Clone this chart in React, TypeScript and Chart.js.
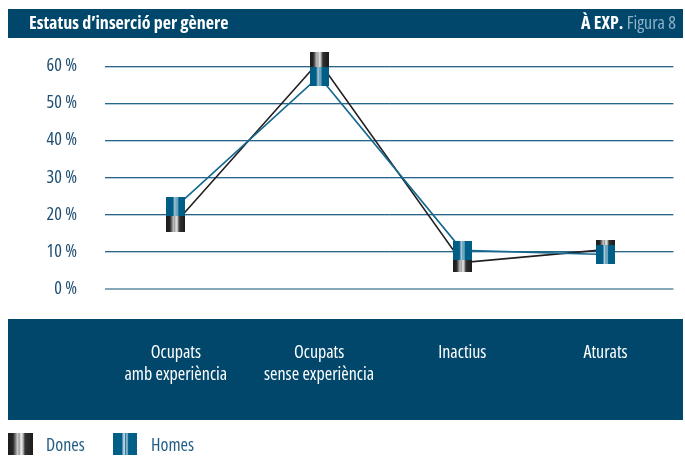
import React, { useEffect, useRef } from 'react';
import { Chart, registerables } from 'chart.js';

Chart.register(...registerables);

// ---- data ----
const categories: string[][] = [
  ['Ocupats', 'amb experiència'],
  ['Ocupats', 'sense experiència'],
  ['Inactius'],
  ['Aturats'],
];
const donesValues = [17.9, 61.2, 7.1, 10.6];
const homesValues = [22.1, 57.2, 10.4, 9.3];
const yTickValues = [0, 10, 20, 30, 40, 50, 60];
const seriesLabels = ['Dones', 'Homes'];
const titleText = 'Estatus d’inserció per gènere';
const sourceText = 'À EXP.';
const figureText = 'Figura 8';

// ---- style ----
const FAMILY = '"Open Sans", "Roboto", sans-serif';
const NAVY = '#00476b';
const DONES_LINE = '#231f20';
const HOMES_LINE = '#15698f';

type Stop = [number, string];
const DONES_STOPS: Stop[] = [
  [0, '#1c1c1c'], [0.2, '#262626'], [0.28, '#6a6a6a'], [0.38, '#c8c8c8'],
  [0.45, '#9a9a9a'], [0.52, '#f2f2f2'], [0.6, '#b8b8b8'], [0.68, '#333333'], [1, '#1c1c1c'],
];
const HOMES_STOPS: Stop[] = [
  [0, '#005d85'], [0.36, '#005f88'], [0.42, '#8fb8cc'], [0.47, '#d3e4ec'],
  [0.52, '#2c7ba1'], [0.58, '#a8c9d9'], [0.65, '#00608a'], [1, '#005d85'],
];

function makeMarker(w: number, h: number, stops: Stop[]): HTMLCanvasElement {
  const c = document.createElement('canvas');
  c.width = w;
  c.height = h;
  const ctx = c.getContext('2d')!;
  const g = ctx.createLinearGradient(0, 0, w, 0);
  stops.forEach(([o, col]) => g.addColorStop(o, col));
  ctx.fillStyle = g;
  ctx.fillRect(0, 0, w, h);
  return c;
}

export default function App() {
  const ref = useRef<HTMLCanvasElement>(null);

  useEffect(() => {
    const canvas = ref.current!;
    const donesImg = makeMarker(19, 19, DONES_STOPS);
    const homesImg = makeMarker(19, 19, HOMES_STOPS);
    const donesLegend = makeMarker(25, 22, DONES_STOPS);
    const homesLegend = makeMarker(24, 22, HOMES_STOPS);

    const decor = {
      id: 'decor',
      beforeDraw(chart: any) {
        const { ctx } = chart;
        ctx.save();
        ctx.fillStyle = NAVY;
        ctx.fillRect(8, 9, 675, 29);
        ctx.fillRect(8, 319, 675, 101);
        ctx.textBaseline = 'alphabetic';
        ctx.textAlign = 'left';
        ctx.font = `bold condensed 18px ${FAMILY}`;
        ctx.fillStyle = '#ffffff';
        ctx.fillText(titleText, 29, 29);
        ctx.font = `condensed 18px ${FAMILY}`;
        const fw = ctx.measureText(figureText).width;
        const space = ctx.measureText(' ').width;
        const fx = 676 - fw;
        ctx.fillStyle = '#8fb2c8';
        ctx.fillText(figureText, fx, 29);
        ctx.font = `bold condensed 18px ${FAMILY}`;
        const sw = ctx.measureText(sourceText).width;
        ctx.fillStyle = '#ffffff';
        ctx.fillText(sourceText, fx - space - sw, 29);
        ctx.restore();
      },
      beforeDatasetsDraw(chart: any) {
        const { ctx, chartArea } = chart;
        const ys = chart.scales.y;
        ctx.save();
        ctx.fillStyle = '#b5cbd9';
        yTickValues.forEach((v) => {
          if (v === 0) return;
          const y = Math.floor(ys.getPixelForValue(v));
          ctx.fillRect(chartArea.left, y + 1, chartArea.right - chartArea.left, 1);
        });
        ctx.restore();
      },
      afterDraw(chart: any) {
        const { ctx } = chart;
        ctx.save();
        ctx.font = `condensed 18px ${FAMILY}`;
        ctx.fillStyle = '#215d85';
        ctx.textBaseline = 'alphabetic';
        ctx.textAlign = 'left';
        ctx.drawImage(donesLegend, 8, 433);
        ctx.fillText(seriesLabels[0], 46, 451);
        ctx.drawImage(homesLegend, 113, 433);
        ctx.fillText(seriesLabels[1], 151, 451);
        ctx.restore();
      },
    };

    const chart = new Chart(canvas, {
      type: 'line',
      data: {
        datasets: [
          {
            label: seriesLabels[1],
            data: homesValues.map((v, i) => ({ x: i, y: v })),
            borderColor: HOMES_LINE,
            backgroundColor: HOMES_LINE,
            borderWidth: 1.6,
            pointStyle: homesImg as any,
            pointRadius: 10,
            clip: false as any,
          },
          {
            label: seriesLabels[0],
            data: donesValues.map((v, i) => ({ x: i, y: v })),
            borderColor: DONES_LINE,
            backgroundColor: DONES_LINE,
            borderWidth: 1.6,
            pointStyle: donesImg as any,
            pointRadius: 10,
            clip: false as any,
          },
        ],
      },
      options: {
        responsive: false,
        animation: false,
        devicePixelRatio: 1,
        layout: { padding: { top: 66, left: 0, right: 2, bottom: 0 } },
        plugins: { legend: { display: false }, tooltip: { enabled: false } },
        scales: {
          x: {
            type: 'linear',
            min: -0.4943,
            max: 3.4737,
            afterBuildTicks: (s: any) => {
              s.ticks = categories.map((_, i) => ({ value: i }));
            },
            afterFit: (s: any) => {
              s.height = 167;
            },
            grid: { display: false, drawTicks: false },
            border: { display: false },
            ticks: {
              color: '#ffffff',
              font: { family: FAMILY, size: 18, weight: 'condensed' as any, lineHeight: 1.22 },
              padding: 53,
              maxRotation: 0,
              autoSkip: false,
              callback: (v: any) => categories[v as number] as any,
            },
          },
          y: {
            min: 0,
            max: 60,
            afterBuildTicks: (s: any) => {
              s.ticks = yTickValues.map((v) => ({ value: v }));
            },
            afterFit: (s: any) => {
              s.width = 105;
            },
            grid: {
              color: (c: any) => (c.tick && c.tick.value === 0 ? '#86a6ba' : '#2a6689'),
              lineWidth: (c: any) => (c.tick && c.tick.value === 0 ? 2 : 1),
              drawTicks: false,
            },
            border: { display: false },
            ticks: {
              color: '#1d4e72',
              font: { family: FAMILY, size: 18, weight: 'condensed' as any },
              padding: 28,
              callback: (v: any) => `${v} %`,
            },
          },
        },
      },
      plugins: [decor],
    });

    return () => chart.destroy();
  }, []);

  return (
    <div style={{ position: 'absolute', left: 0, top: 0, width: 685, height: 456 }}>
      <canvas ref={ref} width={685} height={456} style={{ display: 'block' }} />
    </div>
  );
}
